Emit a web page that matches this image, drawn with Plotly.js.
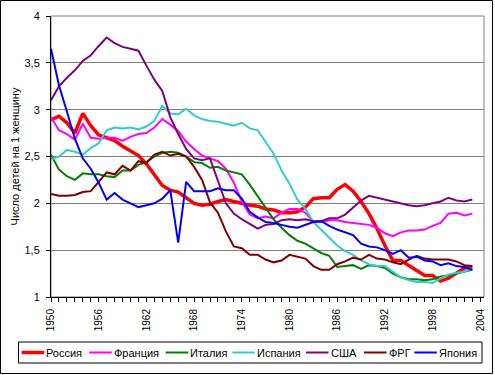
<!DOCTYPE html>
<html>
<head>
<meta charset="utf-8">
<script src="https://cdn.plot.ly/plotly-3.0.1.min.js"></script>
<style>html,body{margin:0;padding:0;background:#fff;}#chart{width:495px;height:375px;}</style>
</head>
<body>
<div id="chart"></div>
<script>
const years = [1950,1951,1952,1953,1954,1955,1956,1957,1958,1959,1960,1961,1962,1963,1964,1965,1966,1967,1968,1969,1970,1971,1972,1973,1974,1975,1976,1977,1978,1979,1980,1981,1982,1983,1984,1985,1986,1987,1988,1989,1990,1991,1992,1993,1994,1995,1996,1997,1998,1999,2000,2001,2002,2003];

const russia = [2.89,2.93,2.86,2.75,2.96,2.83,2.73,2.70,2.67,2.61,2.56,2.51,2.42,2.31,2.19,2.14,2.12,2.06,2.00,1.98,1.99,2.02,2.04,2.02,2.00,1.98,1.97,1.94,1.93,1.90,1.90,1.91,1.96,2.05,2.06,2.06,2.15,2.20,2.13,2.02,1.89,1.73,1.55,1.39,1.39,1.34,1.28,1.23,1.23,1.17,1.20,1.25,1.31,1.32];
const france = [2.92,2.78,2.74,2.68,2.85,2.70,2.69,2.70,2.70,2.67,2.71,2.74,2.75,2.81,2.90,2.84,2.77,2.66,2.58,2.51,2.48,2.45,2.37,2.22,2.02,1.88,1.84,1.86,1.84,1.90,1.94,1.94,1.90,1.80,1.80,1.82,1.82,1.80,1.79,1.78,1.77,1.74,1.68,1.65,1.69,1.71,1.71,1.72,1.76,1.79,1.89,1.90,1.87,1.89];
const italy = [2.52,2.36,2.29,2.25,2.32,2.31,2.31,2.29,2.28,2.35,2.35,2.41,2.44,2.50,2.54,2.55,2.54,2.50,2.44,2.43,2.38,2.39,2.35,2.33,2.31,2.20,2.08,1.95,1.83,1.74,1.66,1.60,1.57,1.52,1.47,1.44,1.32,1.33,1.34,1.30,1.34,1.33,1.31,1.25,1.21,1.19,1.19,1.18,1.19,1.22,1.23,1.25,1.27,1.29];
const spain = [2.47,2.50,2.57,2.55,2.52,2.59,2.64,2.78,2.81,2.80,2.81,2.79,2.82,2.88,3.04,2.96,2.95,3.01,2.94,2.90,2.88,2.87,2.85,2.83,2.86,2.80,2.78,2.65,2.53,2.35,2.21,2.04,1.94,1.80,1.72,1.64,1.55,1.49,1.45,1.39,1.35,1.33,1.33,1.27,1.21,1.18,1.16,1.16,1.15,1.20,1.24,1.26,1.27,1.30];
const usa = [3.10,3.25,3.34,3.42,3.52,3.58,3.68,3.77,3.71,3.67,3.65,3.63,3.47,3.32,3.20,2.92,2.74,2.58,2.48,2.46,2.48,2.25,2.00,1.89,1.83,1.78,1.73,1.77,1.78,1.82,1.83,1.82,1.83,1.81,1.81,1.84,1.84,1.88,1.95,2.03,2.08,2.06,2.04,2.02,2.00,1.98,1.97,1.98,2.00,2.02,2.06,2.03,2.02,2.04];
const frg = [2.10,2.08,2.08,2.09,2.12,2.13,2.23,2.33,2.31,2.40,2.35,2.45,2.43,2.52,2.55,2.51,2.53,2.50,2.39,2.25,2.01,1.90,1.70,1.54,1.52,1.45,1.45,1.40,1.37,1.39,1.45,1.43,1.41,1.33,1.29,1.29,1.35,1.38,1.42,1.40,1.45,1.41,1.40,1.37,1.35,1.40,1.44,1.41,1.40,1.40,1.40,1.38,1.34,1.33];
const japan = [3.65,3.26,2.98,2.69,2.48,2.37,2.22,2.04,2.11,2.04,2.00,1.96,1.98,2.00,2.05,2.14,1.58,2.23,2.13,2.13,2.13,2.16,2.14,2.14,2.05,1.91,1.85,1.80,1.79,1.77,1.75,1.74,1.77,1.80,1.81,1.76,1.72,1.69,1.66,1.57,1.54,1.53,1.50,1.46,1.50,1.42,1.43,1.39,1.38,1.34,1.36,1.33,1.32,1.29];

const seriesNames = ['Россия','Франция','Италия','Испания','США','ФРГ','Япония'];
const seriesValues = [russia, france, italy, spain, usa, frg, japan];

const xTickVals = [1950,1956,1962,1968,1974,1980,1986,1992,1998,2004];
const xTickText = ['1950','1956','1962','1968','1974','1980','1986','1992','1998','2004'];
const yTickVals = [1,1.5,2,2.5,3,3.5,4];
const yTickText = ['1','1,5','2','2,5','3','3,5','4'];
const yTitle = 'Число детей на 1 женщину';

// styles
const colors = ['#FF0000','#FF00FF','#008000','#33CCCC','#800080','#800000','#0000FF'];
const widths = [3.5,2,2,2,2,2,2];
const FONT = 'Liberation Sans, Arial, sans-serif';

const M = {l:51, r:11, t:16, b:78};
const W = 495, H = 375;
const PW = W - M.l - M.r, PH = H - M.t - M.b;
const px2x = p => (p - M.l) / PW;
const py2y = p => (H - M.b - p) / PH;

const traces = seriesNames.map((n, i) => ({
  type: 'scatter', mode: 'lines', name: n, x: years, y: seriesValues[i],
  line: {color: colors[i], width: widths[i]}, showlegend: false, hoverinfo: 'skip'
}));

// legend (custom, to match the boxed single-row legend)
const legLineX = [21.7, 89.3, 165.7, 232.3, 306, 364, 414.3];
const legY = 352.5;
const shapes = [
  {type:'rect', xref:'paper', yref:'paper', x0:0, x1:1, y0:0, y1:1, line:{color:'#808080', width:1}, layer:'below'},
  {type:'rect', xref:'paper', yref:'paper', x0:px2x(0.5), x1:px2x(492.5), y0:py2y(373.5), y1:py2y(0.5), line:{color:'#000', width:1}},
  {type:'rect', xref:'paper', yref:'paper', x0:px2x(18.5), x1:px2x(482), y0:py2y(363), y1:py2y(342), line:{color:'#000', width:1}}
];
const annotations = [];
seriesNames.forEach((n, i) => {
  shapes.push({type:'line', xref:'paper', yref:'paper', x0:px2x(legLineX[i]), x1:px2x(legLineX[i]+22.5), y0:py2y(legY), y1:py2y(legY), line:{color:colors[i], width:widths[i]}});
  annotations.push({xref:'paper', yref:'paper', x:px2x(legLineX[i]+23.5), y:py2y(legY), xanchor:'left', yanchor:'middle', text:n, showarrow:false, font:{family:FONT, size:11, color:'#000'}, borderpad:0});
});

const layout = {
  width: W, height: H, margin: M,
  paper_bgcolor: '#fff', plot_bgcolor: '#fff',
  font: {family: FONT, size: 10, color: '#000'},
  showlegend: false,
  xaxis: {
    range: [1950, 2004 + 3.7/((PW)/54.47)], tickmode: 'array', tickvals: xTickVals, ticktext: xTickText,
    tickangle: -90, ticks: 'outside', ticklen: 4, tickcolor: '#000', tickwidth: 1,
    minor: {dtick: 1, tick0: 1950, ticks: 'outside', ticklen: 4, tickcolor: '#000', showgrid: false},
    showline: true, linecolor: '#000', linewidth: 1, showgrid: false, zeroline: false,
    ticklabelstandoff: 3, tickfont: {family: FONT, size: 10, color: '#000'}
  },
  yaxis: {
    range: [1, 4], tickmode: 'array', tickvals: yTickVals, ticktext: yTickText,
    ticks: 'outside', ticklen: 4, tickcolor: '#000',
    showline: true, linecolor: '#000', linewidth: 1,
    showgrid: true, gridcolor: '#808080', gridwidth: 1, zeroline: false,
    ticklabelstandoff: 4, tickfont: {family: FONT, size: 11, color: '#000'},
    title: {text: yTitle, font: {family: FONT, size: 11, color: '#000'}, standoff: 2}
  },
  shapes: shapes,
  annotations: annotations
};

Plotly.newPlot('chart', traces, layout, {staticPlot: true, displayModeBar: false});
</script>
</body>
</html>
